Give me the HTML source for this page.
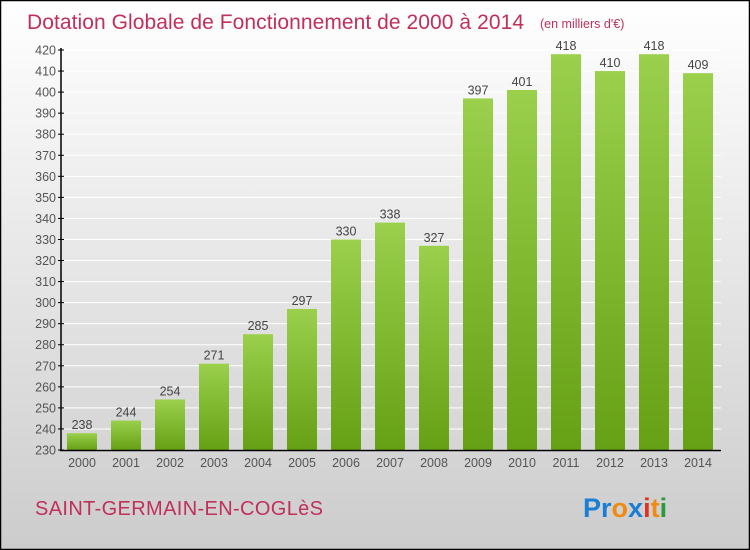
<!DOCTYPE html>
<html><head><meta charset="utf-8"><style>
body{margin:0}
#wrap{position:relative;width:750px;height:550px;overflow:hidden;font-family:"Liberation Sans",sans-serif}
</style></head><body>
<div id="wrap">
<svg id="svg" width="750" height="550" xmlns="http://www.w3.org/2000/svg">
<defs>
<linearGradient id="bg" x1="0" y1="0" x2="0" y2="1"><stop offset="0" stop-color="#ffffff"/><stop offset="1" stop-color="#cccccc"/></linearGradient>
<linearGradient id="bar" x1="0" y1="0" x2="0" y2="1"><stop offset="0" stop-color="#9ad04c"/><stop offset="1" stop-color="#66a014"/></linearGradient>
</defs>
<rect x="0.5" y="0.5" width="749" height="549" fill="url(#bg)" stroke="#000" stroke-width="1.5"/>
<text x="27" y="29" font-size="21" fill="#c0305a" textLength="497">Dotation Globale de Fonctionnement de 2000 à 2014</text>
<text x="540" y="28" font-size="12.5" fill="#c0305a">(en milliers d'€)</text>
<g id="grid"></g><g id="bars"></g><g id="axes"></g>
<text x="35" y="515" font-size="20" fill="#c0305a" textLength="288">SAINT-GERMAIN-EN-COGLèS</text>
<text x="583" y="517" font-size="27" font-weight="bold"><tspan fill="#1a7fd4">Pr</tspan><tspan fill="#f08a10">o</tspan><tspan fill="#1a7fd4">x</tspan><tspan fill="#e03020">i</tspan><tspan fill="#f08a10">t</tspan><tspan fill="#2a9a3a">i</tspan></text>
</svg></div>
<script>
const categories=["2000","2001","2002","2003","2004","2005","2006","2007","2008","2009","2010","2011","2012","2013","2014"];
const values=[238,244,254,271,285,297,330,338,327,397,401,418,410,418,409];
const yTicks=[230,240,250,260,270,280,290,300,310,320,330,340,350,360,370,380,390,400,410,420];
const NS="http://www.w3.org/2000/svg";
const y0=230,y1=420,py0=450,py1=50;
const y=v=>py0-(v-y0)*(py0-py1)/(y1-y0);
const x=i=>82+i*44;
function mk(t,a,p,txt){const e=document.createElementNS(NS,t);for(const k in a)e.setAttribute(k,a[k]);if(txt!=null)e.textContent=txt;document.getElementById(p).appendChild(e);return e;}
yTicks.forEach(t=>{
 const l=mk('line',{x1:61,x2:721,y1:y(t),y2:y(t),stroke:'#ffffff','stroke-width':1},'grid');
 
 
 const k=mk('line',{x1:58,x2:64,y1:y(t),y2:y(t),stroke:'#000'},'axes');
 
 
 const tx=mk('text',{x:56,y:y(t)+4.5,'text-anchor':'end','font-size':12.5,fill:'#555'},'axes',t);
 
 
});
categories.forEach((c,i)=>{
 const v=values[i];
 const r=mk('rect',{x:x(i)-15,y:y(v),width:30,height:py0-y(v),fill:'url(#bar)'},'bars');
 
 
 const vl=mk('text',{x:x(i),y:y(v)-4,'text-anchor':'middle','font-size':12.5,fill:'#444'},'bars',v);
 
 
 const xl=mk('text',{x:x(i),y:467,'text-anchor':'middle','font-size':12.5,fill:'#555'},'axes',c);
 
 
});
const ya=mk('line',{x1:61,x2:61,y1:48,y2:451,stroke:'#000','stroke-width':1.5},'axes');


const xa=mk('line',{x1:60,x2:721,y1:450.5,y2:450.5,stroke:'#000','stroke-width':1.5},'axes');


</script>
</body></html>
